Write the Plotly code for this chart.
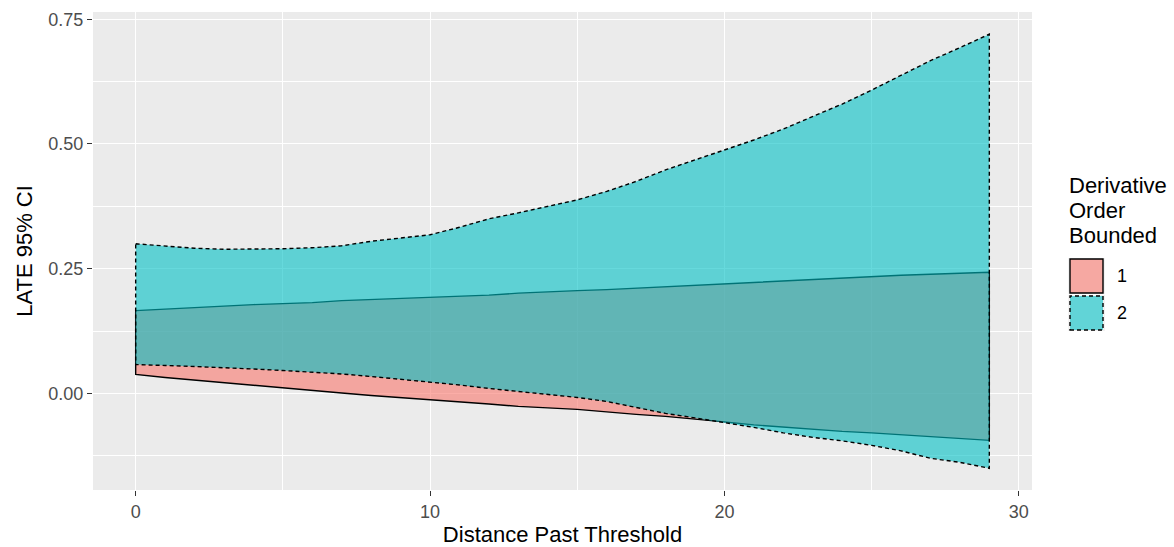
import plotly.graph_objects as go

# ---- data ----
distance = list(range(30))

order1_upper = [0.166, 0.169, 0.172, 0.176, 0.178, 0.180, 0.182, 0.186, 0.188, 0.190,
                0.192, 0.195, 0.197, 0.201, 0.204, 0.206, 0.208, 0.211, 0.214, 0.217,
                0.220, 0.223, 0.226, 0.229, 0.232, 0.235, 0.237, 0.239, 0.241, 0.243]
order1_lower = [0.038, 0.032, 0.027, 0.022, 0.016, 0.011, 0.006, 0.001, -0.004, -0.008,
                -0.012, -0.017, -0.021, -0.026, -0.029, -0.032, -0.037, -0.042, -0.046, -0.051,
                -0.057, -0.063, -0.068, -0.072, -0.076, -0.079, -0.082, -0.086, -0.090, -0.094]
order2_upper = [0.300, 0.296, 0.291, 0.289, 0.289, 0.290, 0.292, 0.296, 0.305, 0.311,
                0.318, 0.333, 0.350, 0.362, 0.375, 0.388, 0.405, 0.425, 0.448, 0.468,
                0.488, 0.508, 0.530, 0.555, 0.580, 0.608, 0.637, 0.667, 0.693, 0.720]
order2_lower = [0.058, 0.056, 0.054, 0.052, 0.049, 0.046, 0.043, 0.039, 0.034, 0.029,
                0.023, 0.017, 0.010, 0.003, -0.002, -0.008, -0.016, -0.028, -0.040, -0.049,
                -0.058, -0.068, -0.079, -0.088, -0.095, -0.104, -0.115, -0.130, -0.138, -0.150]

series_names = ["1", "2"]
legend_title_lines = ["Derivative", "Order", "Bounded"]
x_ticks = [0, 10, 20, 30]
y_ticks = [0.0, 0.25, 0.5, 0.75]
y_tick_labels = ["0.00", "0.25", "0.50", "0.75"]

FONT = "Liberation Sans, Arial, sans-serif"
fills = ["rgba(248,118,109,0.6)", "rgba(0,191,196,0.6)"]
dashes = ["solid", "4px,3px"]

fig = go.Figure()
for name, up, lo, fc, dash in zip(series_names,
                                  [order1_upper, order2_upper],
                                  [order1_lower, order2_lower],
                                  fills, dashes):
    xs = distance + distance[::-1] + [distance[0]]
    ys = up + lo[::-1] + [up[0]]
    fig.add_trace(go.Scatter(
        x=xs, y=ys, mode="lines", fill="toself", fillcolor=fc,
        line=dict(color="black", width=1.4, dash=dash),
        name=name, showlegend=False, hoverinfo="skip"))

# plot area in pixels
L, R, T, B = 93, 1032, 12, 490
W, H = 1174, 547

def px(xp):
    return (xp - L) / (R - L)

def py(yp):
    return (B - yp) / (B - T)

shapes = []
annotations = []
# legend title, one line per annotation for tight spacing
for i, line in enumerate(legend_title_lines):
    annotations.append(dict(
        x=px(1067), y=py(185 + 25 * i), xref="paper", yref="paper",
        xanchor="left", yanchor="middle", text=line, showarrow=False,
        font=dict(family=FONT, size=22, color="black")))
key_tops = [258, 295]
for i, (name, fc, dash) in enumerate(zip(series_names, fills, dashes)):
    t = key_tops[i]
    shapes.append(dict(type="rect", xref="paper", yref="paper",
                       x0=px(1068), x1=px(1105), y0=py(t + 36), y1=py(t),
                       fillcolor="#F2F2F2", line=dict(width=0), layer="above"))
    shapes.append(dict(type="rect", xref="paper", yref="paper",
                       x0=px(1070), x1=px(1103), y0=py(t + 35), y1=py(t + 1),
                       fillcolor=fc, line=dict(color="black", width=1.4, dash=dash),
                       layer="above"))
    annotations.append(dict(
        x=px(1115), y=py(t + 18), xref="paper", yref="paper", xanchor="left",
        yanchor="middle", text=name, showarrow=False,
        font=dict(family=FONT, size=18, color="black")))

fig.update_layout(
    width=W, height=H,
    margin=dict(l=L, r=W - R, t=T, b=H - B, autoexpand=False),
    paper_bgcolor="white", plot_bgcolor="#EBEBEB",
    font=dict(family=FONT, color="#4D4D4D"),
    shapes=shapes, annotations=annotations,
    showlegend=False,
)
fig.update_xaxes(
    range=[-1.45, 30.45], tickvals=x_ticks, ticks="outside", ticklen=5,
    tickcolor="#333333", tickwidth=1.1, automargin=False,
    tickfont=dict(family=FONT, size=18, color="#4D4D4D"),
    showgrid=True, gridcolor="white", gridwidth=1.1, zeroline=False,
    showline=False,
    minor=dict(dtick=5, tick0=0, showgrid=True, gridcolor="white", gridwidth=0.55, ticks=""),
    title=dict(text="Distance Past Threshold", standoff=9,
               font=dict(family=FONT, size=22, color="black")),
)
fig.update_yaxes(
    range=[-0.1935, 0.7645], tickvals=y_ticks, ticktext=y_tick_labels,
    ticks="outside", ticklen=5, tickcolor="#333333", tickwidth=1.1, automargin=False,
    tickfont=dict(family=FONT, size=18, color="#4D4D4D"),
    showgrid=True, gridcolor="white", gridwidth=1.1, zeroline=False,
    showline=False,
    minor=dict(dtick=0.125, tick0=0, showgrid=True, gridcolor="white", gridwidth=0.55, ticks=""),
    title=dict(text="LATE 95% CI", standoff=9,
               font=dict(family=FONT, size=22, color="black")),
)

fig.write_html("out.html")
